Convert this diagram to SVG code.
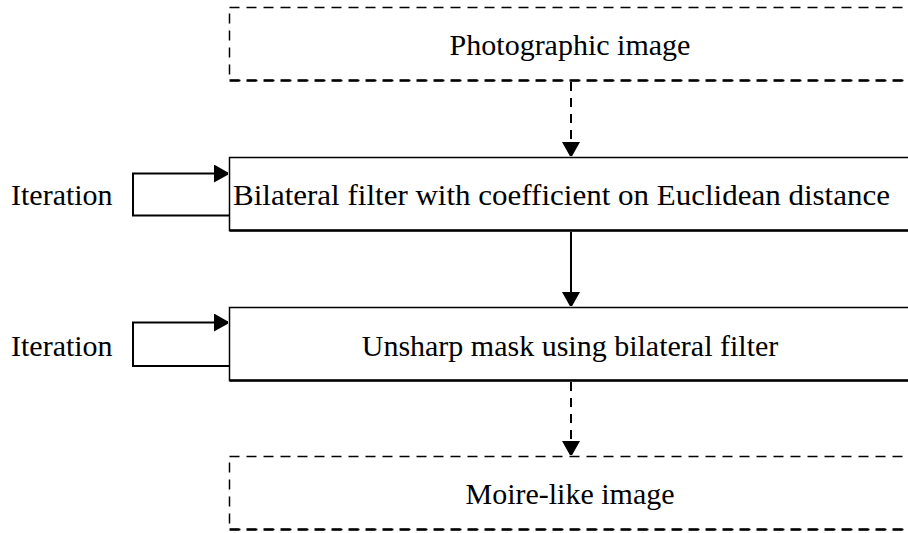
<svg xmlns="http://www.w3.org/2000/svg" width="908" height="533" viewBox="0 0 908 533">
  <defs>
    <marker id="head" viewBox="0 0 14 18" refX="14" refY="9" markerWidth="14" markerHeight="18" markerUnits="userSpaceOnUse" orient="auto">
      <path d="M0,0 L16,9 L0,18 Z" fill="#000"/>
    </marker>
    <style>
      .lbl { font-family: "Liberation Serif", "Times New Roman", serif; font-size: 30px; fill: #000; }
      .dash { fill: #fff; stroke: #000; stroke-width: 1.5; stroke-dasharray: 10 7; }
      .solid { fill: #fff; stroke: #000; stroke-width: 1.5; }
      .edge { stroke: #000; stroke-width: 2; fill: none; }
      .edge-d { stroke: #000; stroke-width: 2; fill: none; stroke-dasharray: 9 7; }
      .thick-d { stroke: #000; stroke-width: 2.5; stroke-dasharray: 10 7; }
      .thick { stroke: #000; stroke-width: 2.5; }
    </style>
  </defs>
  <rect width="908" height="533" fill="#fff"/>

  <g id="photo">
    <rect class="dash" x="229.5" y="7.5" width="700" height="73"/>
    <line class="thick-d" x1="229.5" y1="80.5" x2="930" y2="80.5"/>
    <text class="lbl" x="570" y="55" text-anchor="middle">Photographic image</text>
  </g>

  <g id="bilateral">
    <rect class="solid" x="229.5" y="157.5" width="700" height="73"/>
    <line class="thick" x1="229.5" y1="230.5" x2="930" y2="230.5"/>
    <text class="lbl" x="233" y="205" textLength="657" lengthAdjust="spacingAndGlyphs">Bilateral filter with coefficient on Euclidean distance</text>
  </g>

  <g id="iter1">
    <text class="lbl" x="11" y="205">Iteration</text>
  </g>

  <g id="unsharp">
    <rect class="solid" x="229.5" y="307.5" width="700" height="73"/>
    <line class="thick" x1="229.5" y1="380.5" x2="930" y2="380.5"/>
    <text class="lbl" x="570" y="356" text-anchor="middle">Unsharp mask using bilateral filter</text>
  </g>

  <g id="iter2">
    <text class="lbl" x="11" y="356">Iteration</text>
  </g>

  <g id="moire">
    <rect class="dash" x="229.5" y="456.5" width="700" height="73"/>
    <line class="thick-d" x1="229.5" y1="529.5" x2="930" y2="529.5"/>
    <text class="lbl" x="570" y="504" text-anchor="middle">Moire-like image</text>
  </g>

  <g id="connectors">
    <line class="edge-d" x1="571" y1="82" x2="571" y2="156" marker-end="url(#head)"/>
    <line class="edge" x1="571" y1="232" x2="571" y2="306" marker-end="url(#head)"/>
    <line class="edge-d" x1="571" y1="382" x2="571" y2="455" marker-end="url(#head)"/>
    <polyline class="edge" points="229,215.5 133,215.5 133,173.5 228,173.5" marker-end="url(#head)"/>
    <polyline class="edge" points="229,366 133,366 133,322.5 228,322.5" marker-end="url(#head)"/>
  </g>
</svg>
